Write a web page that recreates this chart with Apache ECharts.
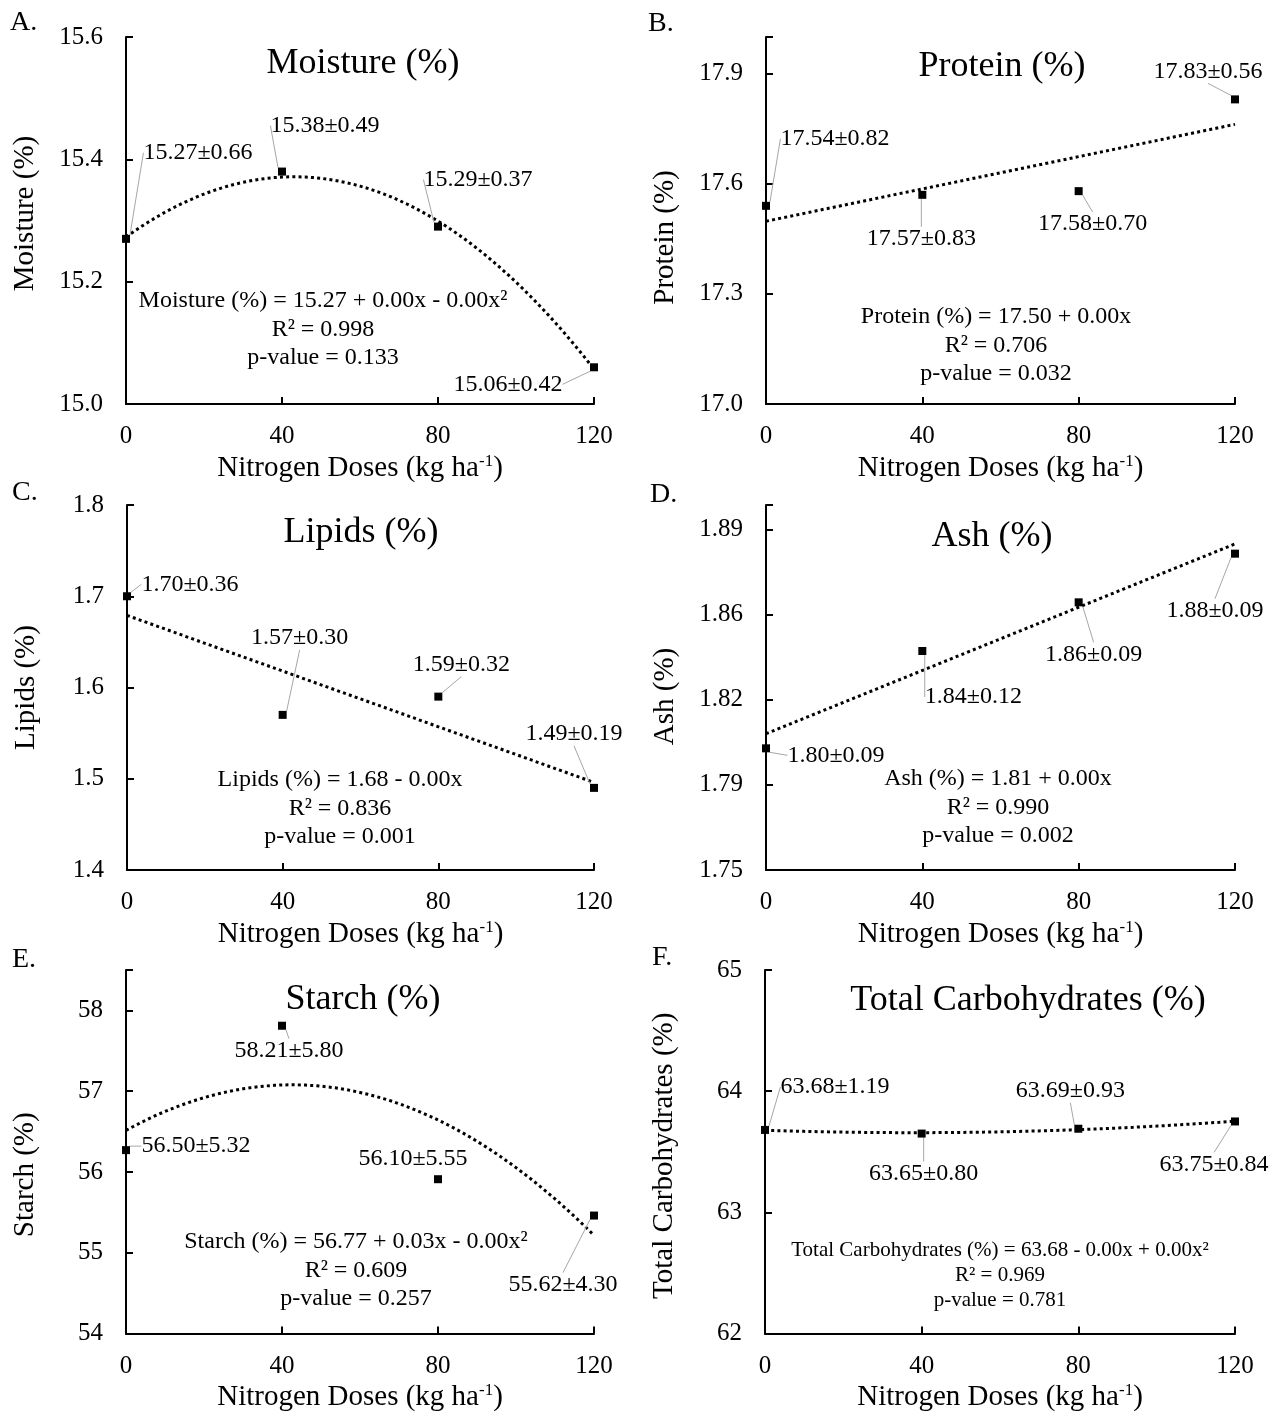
<!DOCTYPE html>
<html><head><meta charset="utf-8">
<script src="https://cdn.jsdelivr.net/npm/echarts/dist/echarts.min.js"></script>
<style>html,body{margin:0;padding:0;background:#fff}#c{width:1282px;height:1413px}</style>
</head><body><div id="c"></div>
<script>
// ---------------- DATA ----------------
const doses = [0, 40, 80, 120];
const xTicks = [0, 40, 80, 120];

const moisture = [15.27, 15.38, 15.29, 15.06];
const moistureLabels = ['15.27±0.66', '15.38±0.49', '15.29±0.37', '15.06±0.42'];
const moistureTicks = [15.0, 15.2, 15.4, 15.6];
const moistureTickLabels = ['15.0', '15.2', '15.4', '15.6'];
const moistureAxisMax = 15.6;

const protein = [17.54, 17.57, 17.58, 17.83];
const proteinLabels = ['17.54±0.82', '17.57±0.83', '17.58±0.70', '17.83±0.56'];
const proteinTicks = [17.0, 17.3, 17.6, 17.9];
const proteinTickLabels = ['17.0', '17.3', '17.6', '17.9'];
const proteinAxisMax = 18.0;

const lipids = [1.70, 1.57, 1.59, 1.49];
const lipidsLabels = ['1.70±0.36', '1.57±0.30', '1.59±0.32', '1.49±0.19'];
const lipidsTicks = [1.4, 1.5, 1.6, 1.7, 1.8];
const lipidsTickLabels = ['1.4', '1.5', '1.6', '1.7', '1.8'];
const lipidsAxisMax = 1.8;

const ash = [1.80, 1.84, 1.86, 1.88];
const ashLabels = ['1.80±0.09', '1.84±0.12', '1.86±0.09', '1.88±0.09'];
const ashTicks = [1.75, 1.785, 1.82, 1.855, 1.89];
const ashTickLabels = ['1.75', '1.79', '1.82', '1.86', '1.89'];
const ashAxisMax = 1.9;

const starch = [56.27, 57.81, 55.91, 55.46];
const starchLabels = ['56.50±5.32', '58.21±5.80', '56.10±5.55', '55.62±4.30'];
const starchTicks = [54, 55, 56, 57, 58];
const starchTickLabels = ['54', '55', '56', '57', '58'];
const starchAxisMax = 58.5;

const carbs = [63.68, 63.65, 63.69, 63.75];
const carbsLabels = ['63.68±1.19', '63.65±0.80', '63.69±0.93', '63.75±0.84'];
const carbsTicks = [62, 63, 64, 65];
const carbsTickLabels = ['62', '63', '64', '65'];
const carbsAxisMax = 65;

// ---------------- LAYOUT ----------------
const FONT = "'Liberation Serif','Times New Roman',serif";
const panels = [
  { letter: 'A.', values: moisture, labels: moistureLabels, ticks: moistureTicks, tickLabels: moistureTickLabels, axisMax: moistureAxisMax, degree: 2,
    grid: { left: 126, top: 37, width: 468, height: 367 }, yName: 'Moisture (%)', namePad: [0, 0, 0, 14],
    title: 'Moisture (%)', titlePos: [363, 64], letterPos: [10, 23],
    eq: ['Moisture (%) = 15.27 + 0.00x - 0.00x²', 'R² = 0.998', 'p-value = 0.133'], eqPos: [323, 301], eqFont: 24, eqLH: 28.5,
    offsets: [[72, -86], [43, -46], [40, -47], [-86, 17]], leaders: [1, 1, 1, 1] },
  { letter: 'B.', values: protein, labels: proteinLabels, ticks: proteinTicks, tickLabels: proteinTickLabels, axisMax: proteinAxisMax, degree: 1,
    grid: { left: 766, top: 37, width: 469, height: 367 }, yName: 'Protein (%)', namePad: [0, 34, 0, 0],
    title: 'Protein (%)', titlePos: [1002, 67], letterPos: [648, 24],
    eq: ['Protein (%) = 17.50 + 0.00x', 'R² = 0.706', 'p-value = 0.032'], eqPos: [996, 317], eqFont: 24, eqLH: 28.5,
    offsets: [[69, -67], [-1, 44], [14, 33], [-27, -28]], leaders: [1, 1, 1, 1] },
  { letter: 'C.', values: lipids, labels: lipidsLabels, ticks: lipidsTicks, tickLabels: lipidsTickLabels, axisMax: lipidsAxisMax, degree: 1,
    grid: { left: 127, top: 505, width: 467, height: 365 }, yName: 'Lipids (%)', namePad: [0, 0, 0, 0],
    title: 'Lipids (%)', titlePos: [361, 533], letterPos: [12, 493],
    eq: ['Lipids (%) = 1.68 - 0.00x', 'R² = 0.836', 'p-value = 0.001'], eqPos: [340, 780], eqFont: 24, eqLH: 28.5,
    offsets: [[63, -12], [17, -77], [23, -32], [-20, -54]], leaders: [1, 1, 1, 1] },
  { letter: 'D.', values: ash, labels: ashLabels, ticks: ashTicks, tickLabels: ashTickLabels, axisMax: ashAxisMax, degree: 1,
    grid: { left: 766, top: 505, width: 469, height: 365 }, yName: 'Ash (%)', namePad: [0, 18, 0, 0],
    title: 'Ash (%)', titlePos: [992, 537], letterPos: [650, 495],
    eq: ['Ash (%) = 1.81 + 0.00x', 'R² = 0.990', 'p-value = 0.002'], eqPos: [998, 779], eqFont: 24, eqLH: 28.5,
    offsets: [[70, 7], [51, 46], [15, 52], [-20, 57]], leaders: [1, 1, 1, 1] },
  { letter: 'E.', values: starch, labels: starchLabels, ticks: starchTicks, tickLabels: starchTickLabels, axisMax: starchAxisMax, degree: 2,
    grid: { left: 126, top: 970, width: 468, height: 366 }, yName: 'Starch (%)', namePad: [0, 46, 0, 0],
    title: 'Starch (%)', titlePos: [363, 1000], letterPos: [12, 960],
    eq: ['Starch (%) = 56.77 + 0.03x - 0.00x²', 'R² = 0.609', 'p-value = 0.257'], eqPos: [356, 1242], eqFont: 24, eqLH: 28.5,
    offsets: [[70, -4], [7, 25], [-25, -21], [-31, 69]], leaders: [1, 1, 0, 1] },
  { letter: 'F.', values: carbs, labels: carbsLabels, ticks: carbsTicks, tickLabels: carbsTickLabels, axisMax: carbsAxisMax, degree: 2,
    grid: { left: 765, top: 970, width: 470, height: 366 }, yName: 'Total Carbohydrates (%)', namePad: [0, 8, 0, 0],
    title: 'Total Carbohydrates (%)', titlePos: [1028, 1001], letterPos: [652, 958],
    eq: ['Total Carbohydrates (%) = 63.68 - 0.00x + 0.00x²', 'R² = 0.969', 'p-value = 0.781'], eqPos: [1000, 1250], eqFont: 21, eqLH: 25,
    offsets: [[70, -43], [2, 40], [-8, -38], [-21, 43]], leaders: [1, 1, 1, 1] }
];

// Excel-style least-squares trendline computed from the plotted data
function polyfit(xs, ys, deg) {
  const n = deg + 1;
  const A = [];
  for (let i = 0; i < n; i++) {
    A.push([]);
    for (let j = 0; j < n; j++) A[i].push(xs.reduce((s, x) => s + Math.pow(x, i + j), 0));
    A[i].push(xs.reduce((s, x, k) => s + Math.pow(x, i) * ys[k], 0));
  }
  for (let c = 0; c < n; c++) {
    let p = c;
    for (let r = c + 1; r < n; r++) if (Math.abs(A[r][c]) > Math.abs(A[p][c])) p = r;
    [A[c], A[p]] = [A[p], A[c]];
    for (let r = 0; r < n; r++) {
      if (r === c) continue;
      const f = A[r][c] / A[c][c];
      for (let k = c; k <= n; k++) A[r][k] -= f * A[c][k];
    }
  }
  return A.map((row, i) => row[n] / row[i]);
}

const grids = [], xAxes = [], yAxes = [], series = [], graphics = [];
const xMin = xTicks[0], xMax = xTicks[xTicks.length - 1], xInt = xTicks[1] - xTicks[0];

panels.forEach((p, i) => {
  grids.push(Object.assign({ containLabel: false }, p.grid));
  xAxes.push({
    type: 'value', gridIndex: i, min: xMin, max: xMax, interval: xInt,
    axisLine: { show: true, lineStyle: { color: '#000', width: 2 } },
    axisTick: { show: true, inside: true, length: 7, lineStyle: { color: '#000', width: 2 } },
    axisLabel: { margin: 20, color: '#000', fontSize: 25, fontFamily: FONT },
    splitLine: { show: false },
    name: '{a|Nitrogen Doses (kg ha}{s|-1}{a|)}', nameLocation: 'middle', nameGap: 49,
    nameTextStyle: { rich: {
      a: { fontSize: 29, fontFamily: FONT, color: '#000', lineHeight: 30 },
      s: { fontSize: 17, fontFamily: FONT, color: '#000', verticalAlign: 'top', lineHeight: 30 }
    } }
  });
  const yMin = p.ticks[0];
  const yInt = Math.round((p.ticks[1] - p.ticks[0]) * 1e6) / 1e6;
  yAxes.push({
    type: 'value', gridIndex: i, min: yMin, max: p.axisMax, interval: yInt,
    axisLine: { show: true, lineStyle: { color: '#000', width: 2 } },
    axisTick: { show: true, inside: true, length: 7, lineStyle: { color: '#000', width: 2 } },
    axisLabel: {
      margin: 23, color: '#000', fontSize: 25, fontFamily: FONT, showMaxLabel: true,
      formatter: function (v) {
        const k = Math.round((v - yMin) / yInt);
        if (k < 0 || k >= p.ticks.length || Math.abs(p.ticks[k] - v) > 1e-6) return '';
        return p.tickLabels[k];
      }
    },
    splitLine: { show: false },
    name: p.yName, nameLocation: 'middle', nameGap: 86,
    nameTextStyle: { fontSize: 29, fontFamily: FONT, color: '#000', padding: p.namePad }
  });

  // trendline
  const coef = polyfit(doses, p.values, p.degree);
  const tr = [];
  const step = p.degree === 1 ? (xMax - xMin) : 2;
  for (let x = xMin; x <= xMax + 1e-9; x += step) {
    let y = 0;
    coef.forEach((c, k) => { y += c * Math.pow(x, k); });
    tr.push([x, y]);
  }
  series.push({
    type: 'line', xAxisIndex: i, yAxisIndex: i, data: tr, showSymbol: false, symbol: 'none',
    lineStyle: { color: '#000', width: 3, type: [3, 3.2], cap: 'butt' }, z: 2, silent: true
  });

  const lbl = { show: true, position: 'inside', color: '#000', fontSize: 24, fontFamily: FONT,
                textBorderWidth: 0, textBorderColor: 'transparent', textShadowBlur: 0, opacity: 1 };
  series.push({
    type: 'scatter', xAxisIndex: i, yAxisIndex: i, symbol: 'rect', symbolSize: 8,
    itemStyle: { color: '#000', opacity: 1 }, z: 3,
    data: doses.map((x, k) => ({
      value: [x, p.values[k]],
      label: Object.assign({}, lbl, { formatter: p.labels[k] }),
      labelLine: { show: !!p.leaders[k] }
    })),
    label: lbl,
    labelLine: { show: true, lineStyle: { color: '#a6a6a6', width: 1 } },
    labelLayout: function (params) {
      const o = p.offsets[params.dataIndex];
      return { dx: o[0], dy: o[1], hideOverlap: false };
    },
    emphasis: { disabled: true }
  });

  graphics.push({ type: 'text', x: p.letterPos[0], y: p.letterPos[1],
    style: { text: p.letter, fontSize: 28, fontFamily: FONT, fill: '#000', align: 'left', verticalAlign: 'middle' } });
  graphics.push({ type: 'text', x: p.titlePos[0], y: p.titlePos[1],
    style: { text: p.title, fontSize: 36, fontFamily: FONT, fill: '#000', align: 'center', verticalAlign: 'middle' } });
  graphics.push({ type: 'text', x: p.eqPos[0], y: p.eqPos[1] - p.eqLH / 2,
    style: { text: p.eq.join('\n'), fontSize: p.eqFont, fontFamily: FONT, fill: '#000', align: 'center', verticalAlign: 'top', lineHeight: p.eqLH } });
});

const chart = echarts.init(document.getElementById('c'), null, { renderer: 'canvas' });
chart.setOption({
  backgroundColor: '#fff', animation: false,
  grid: grids, xAxis: xAxes, yAxis: yAxes, series: series, graphic: graphics
});
</script></body></html>
